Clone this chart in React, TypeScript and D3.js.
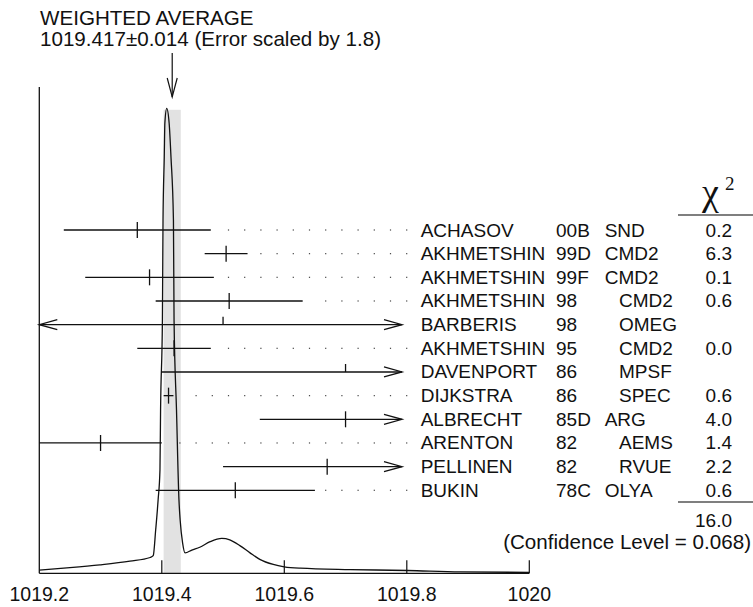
import React from 'react';
import * as d3 from 'd3';

const authors = ["ACHASOV", "AKHMETSHIN", "AKHMETSHIN", "AKHMETSHIN", "BARBERIS", "AKHMETSHIN", "DAVENPORT", "DIJKSTRA", "ALBRECHT", "ARENTON", "PELLINEN", "BUKIN"];
const years = ["00B", "99D", "99F", "98", "98", "95", "86", "86", "85D", "82", "82", "78C"];
const detectors = ["SND", "CMD2", "CMD2", "CMD2", "OMEG", "CMD2", "MPSF", "SPEC", "ARG", "AEMS", "RVUE", "OLYA"];
const values = [1019.36, 1019.505, 1019.38, 1019.51, 1019.50, 1019.42, 1019.70, 1019.411, 1019.70, 1019.30, 1019.67, 1019.52];
const errors = [0.12, 0.035, 0.105, 0.12, 0.4, 0.06, 0.30, 0.008, 0.14, 0.10, 0.17, 0.13];
const chi2 = ["0.2", "6.3", "0.1", "0.6", "", "0.0", "", "0.6", "4.0", "1.4", "2.2", "0.6"];
const chi2Total = "16.0";
const confidence = "0.068";
const avgValue = 1019.417;
const avgError = 0.014;
const errorScale = "1.8";
const xTicks = [1019.2, 1019.4, 1019.6, 1019.8, 1020];
const xTickLabels = ["1019.2", "1019.4", "1019.6", "1019.8", "1020"];

// ideogram curve (relative height, peak = 1)
const idMass = [1019.200, 1019.250, 1019.299, 1019.348, 1019.381, 1019.386, 1019.390, 1019.394, 1019.397, 1019.398, 1019.401, 1019.402, 1019.404, 1019.405, 1019.408, 1019.412, 1019.415, 1019.419, 1019.420, 1019.424, 1019.428, 1019.430, 1019.434, 1019.438, 1019.449, 1019.462, 1019.479, 1019.498, 1019.511, 1019.528, 1019.544, 1019.560, 1019.582, 1019.600, 1019.626, 1019.708, 1019.801, 1019.887, 1020.000];
const idHeight = [0.007, 0.012, 0.018, 0.026, 0.034, 0.038, 0.093, 0.158, 0.222, 0.351, 0.545, 0.760, 0.895, 0.968, 1.0, 0.968, 0.895, 0.760, 0.545, 0.351, 0.158, 0.114, 0.065, 0.044, 0.050, 0.056, 0.068, 0.075, 0.072, 0.059, 0.044, 0.030, 0.019, 0.014, 0.011, 0.008, 0.006, 0.003, 0.002];

const W = 753, H = 607;
const FONT = '"Liberation Sans", Arial, Helvetica, sans-serif';
const SERIF = '"Liberation Serif", "DejaVu Serif", "Times New Roman", serif';

export default function App() {
  const x = d3.scaleLinear().domain([1019.2, 1020]).range([39.3, 529.3]);
  const rowY = d3.scaleLinear().domain([0, authors.length - 1]).range([230, 490.3]);
  const yD = d3.scaleLinear().domain([0, 1]).range([573.3, 108.3]);
  const baseY = yD(0);
  const barRight = 402;
  const dotLast = 406.7;
  const dotStep = 16.2;

  const line = d3.line<number>()
    .x((_, i) => x(idMass[i]))
    .y((d) => yD(d))
    .curve(d3.curveMonotoneX);

  const arrowX = x(avgValue);

  const rows = authors.map((a, i) => {
    const y = rowY(i);
    const lo = values[i] - errors[i];
    const hi = values[i] + errors[i];
    const leftArrow = lo < x.domain()[0] - 1e-9;
    const x1 = leftArrow ? x.range()[0] : x(lo);
    const rawX2 = x(hi);
    const rightArrow = rawX2 > barRight;
    const x2 = rightArrow ? barRight : rawX2;
    const cx = x(values[i]);
    const used = chi2[i] !== "";
    const dots: number[] = [];
    if (!rightArrow) {
      for (let k = 0; ; k++) {
        const dx = dotLast - dotStep * k;
        if (dx <= x2 + 9) break;
        dots.push(dx);
      }
    }
    return (
      <g key={i}>
        <line x1={x1} x2={x2} y1={y} y2={y} stroke="#111" strokeWidth={1.3} />
        <line x1={cx} x2={cx} y1={y - 8} y2={used ? y + 8 : y} stroke="#111" strokeWidth={1.3} />
        {rightArrow && (
          <path d={`M${x2 - 18},${y - 5}L${x2},${y}L${x2 - 18},${y + 5}`} fill="none" stroke="#111" strokeWidth={1.3} />
        )}
        {leftArrow && (
          <path d={`M${x1 + 18},${y - 5}L${x1},${y}L${x1 + 18},${y + 5}`} fill="none" stroke="#111" strokeWidth={1.3} />
        )}
        {dots.map((dx, k) => (
          <rect key={k} x={dx - 0.6} y={y - 0.6} width={1.2} height={1.2} fill="#444" />
        ))}
        <text x={420.7} y={y + 6.5} fontSize={19} fontFamily={FONT} fill="#111">{a}</text>
        <text x={556} y={y + 6.5} fontSize={19} fontFamily={FONT} fill="#111">{years[i]}</text>
        <text x={years[i].length > 2 ? 604.7 : 619} y={y + 6.5} fontSize={19} fontFamily={FONT} fill="#111">{detectors[i]}</text>
        {used && (
          <text x={732} y={y + 6.5} fontSize={19} fontFamily={FONT} fill="#111" textAnchor="end">{chi2[i]}</text>
        )}
      </g>
    );
  });

  return (
    <svg width={W} height={H} style={{ position: 'absolute', left: 0, top: 0, background: '#fff' }}>
      <rect x={0} y={0} width={W} height={H} fill="#fff" />
      {/* header */}
      <text x={40} y={25} fontSize={20.6} fontFamily={FONT} fill="#111">WEIGHTED AVERAGE</text>
      <text x={40} y={46} fontSize={20.6} fontFamily={FONT} fill="#111">{`${avgValue.toFixed(3)}\u00B1${avgError.toFixed(3)} (Error scaled by ${errorScale})`}</text>
      <line x1={arrowX} x2={arrowX} y1={53} y2={97} stroke="#111" strokeWidth={1.2} />
      <path d={`M${arrowX - 5},${78}L${arrowX},${97}L${arrowX + 5},${78}`} fill="none" stroke="#111" strokeWidth={1.2} />

      {/* average band */}
      <rect x={x(avgValue - avgError)} y={yD(1) + 1.5} width={x(avgValue + avgError) - x(avgValue - avgError)} height={baseY - yD(1) - 1.5} fill="#e2e2e2" />

      {/* ideogram */}
      <path d={line(idHeight) || ''} fill="none" stroke="#111" strokeWidth={1.3} />

      {/* axes */}
      <line x1={x.range()[0]} x2={x.range()[0]} y1={87} y2={baseY} stroke="#111" strokeWidth={1.3} />
      <line x1={x.range()[0]} x2={x.range()[1]} y1={baseY} y2={baseY} stroke="#111" strokeWidth={1.3} />
      {xTicks.map((t, i) => (
        <g key={i}>
          {i > 0 && <line x1={x(t)} x2={x(t)} y1={baseY} y2={baseY - 13} stroke="#111" strokeWidth={1.2} />}
          <text x={x(t)} y={601} fontSize={19.5} fontFamily={FONT} fill="#111" textAnchor="middle">{xTickLabels[i]}</text>
        </g>
      ))}

      {rows}

      {/* chi2 table */}
      <text x={702} y={205} fontSize={38} fontFamily={SERIF} fill="#111">{'\u03C7'}</text>
      <text x={725} y={190} fontSize={19} fontFamily={SERIF} fill="#111">2</text>
      <line x1={678} x2={753} y1={215} y2={215} stroke="#555" strokeWidth={1.5} />
      <line x1={678} x2={753} y1={502} y2={502} stroke="#555" strokeWidth={1.5} />
      <text x={732} y={527} fontSize={19} fontFamily={FONT} fill="#111" textAnchor="end">{chi2Total}</text>
      <text x={751} y={549} fontSize={20.6} fontFamily={FONT} fill="#111" textAnchor="end">{`(Confidence Level = ${confidence})`}</text>
    </svg>
  );
}
